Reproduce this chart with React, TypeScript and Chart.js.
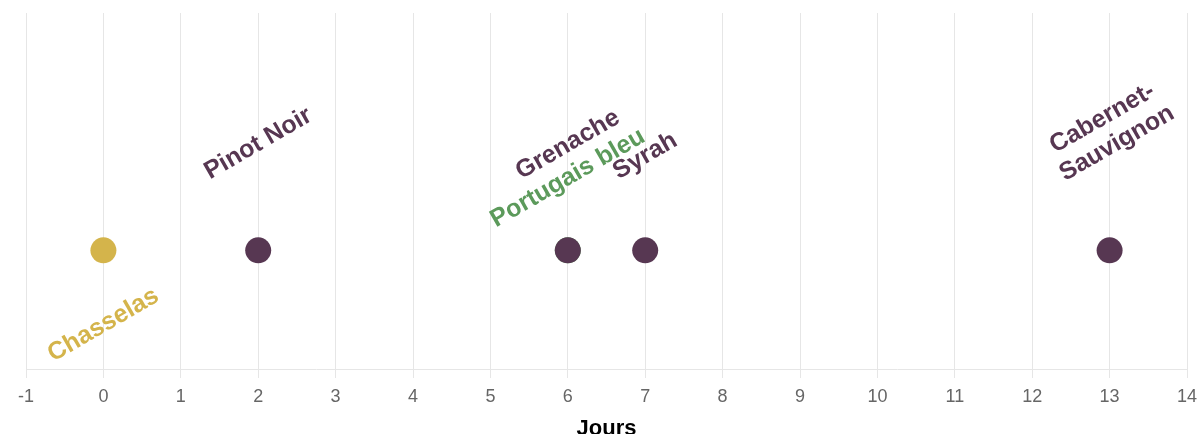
import React, { useEffect, useRef } from "react";
import { Chart, registerables } from "chart.js";

Chart.register(...registerables);

// Data
const blancsNoms = ["Chasselas"];
const blancsJours = [0];
const rougesNoms = ["Pinot Noir", "Grenache", "Syrah", "Cabernet-Sauvignon"];
const rougesJours = [2, 6, 7, 13];
const autresNoms = ["Portugais bleu"];
const autresJours = [6];
const xTicksMin = -1;
const xTicksMax = 14;
const axisTitle = "Jours";

const PURPLE = "#573752";
const GOLD = "#d4b44b";
const GREEN = "#5c9a5b";
const FONT = "'Liberation Sans', Arial, Helvetica, sans-serif";

type LabelCfg = { color: string; dir: number; gap: number };
const labelCfgs: LabelCfg[] = [
  { color: GREEN, dir: -1, gap: 18 },
  { color: PURPLE, dir: -1, gap: 66 },
  { color: GOLD, dir: 1, gap: 33 },
];

const wrapLabel = (s: string): string[] => {
  const i = s.indexOf("-");
  if (i > 0 && s.length > 14) return [s.slice(0, i + 1), s.slice(i + 1)];
  return [s];
};

const labelPlugin = {
  id: "cepageLabels",
  afterDatasetsDraw(chart: any) {
    const ctx: CanvasRenderingContext2D = chart.ctx;
    const fs = 25;
    const ang = Math.PI / 6;
    chart.data.datasets.forEach((ds: any, di: number) => {
      const meta = chart.getDatasetMeta(di);
      const cfg = labelCfgs[di];
      meta.data.forEach((pt: any, i: number) => {
        const lines = wrapLabel(ds.names[i]);
        ctx.save();
        ctx.font = `bold ${fs}px ${FONT}`;
        const w = Math.max(...lines.map((l) => ctx.measureText(l).width));
        const h = lines.length * fs;
        const half = (w * Math.sin(ang) + h * Math.cos(ang)) / 2;
        const cx = pt.x;
        const cy = pt.y + cfg.dir * (cfg.gap + half);
        ctx.translate(cx, cy);
        ctx.rotate(-ang);
        ctx.fillStyle = cfg.color;
        ctx.textAlign = "center";
        ctx.textBaseline = "middle";
        const lh = 29;
        lines.forEach((l, j) => {
          ctx.fillText(l, 0, (j - (lines.length - 1) / 2) * lh);
        });
        ctx.restore();
      });
    });
  },
};

export default function App() {
  const ref = useRef<HTMLCanvasElement | null>(null);
  useEffect(() => {
    document.body.style.margin = "0";
    if (!ref.current) return;
    const mk = (jours: number[]) => jours.map((x) => ({ x, y: 0 }));
    const chart = new Chart(ref.current, {
      type: "scatter",
      data: {
        datasets: [
          {
            label: "Autres",
            names: autresNoms,
            data: mk(autresJours),
            backgroundColor: GREEN,
            borderWidth: 0,
            pointRadius: 13,
            order: 3,
          } as any,
          {
            label: "Rouges",
            names: rougesNoms,
            data: mk(rougesJours),
            backgroundColor: PURPLE,
            borderWidth: 0,
            pointRadius: 13,
            order: 1,
          } as any,
          {
            label: "Blancs",
            names: blancsNoms,
            data: mk(blancsJours),
            backgroundColor: GOLD,
            borderWidth: 0,
            pointRadius: 13,
            order: 2,
          } as any,
        ],
      },
      options: {
        animation: false,
        responsive: false,
        maintainAspectRatio: false,
        layout: { padding: { top: 12, left: 26, right: 13, bottom: 0 } },
        plugins: {
          legend: { display: false },
          tooltip: { enabled: false },
        },
        scales: {
          x: {
            type: "linear",
            min: xTicksMin,
            max: xTicksMax,
            afterFit: (scale: any) => {
              scale.paddingRight = 0;
              scale.paddingLeft = 0;
            },
            ticks: {
              stepSize: 1,
              color: "#666",
              font: { size: 18, family: FONT },
              padding: 8,
            },
            grid: { color: "#e6e6e6", tickLength: 9, lineWidth: 1 },
            border: { color: "#e6e6e6" },
            title: {
              display: true,
              text: axisTitle,
              color: "#000",
              font: { size: 22, weight: "bold", family: FONT },
              padding: { top: 0, bottom: 4 },
            },
          },
          y: { display: false, min: -1, max: 2 },
        },
      },
      plugins: [labelPlugin],
    });
    return () => chart.destroy();
  }, []);
  return (
    <div style={{ width: 1200, height: 434, overflow: "hidden", background: "#fff" }}>
      <canvas ref={ref} width={1200} height={446} style={{ display: "block" }} />
    </div>
  );
}
